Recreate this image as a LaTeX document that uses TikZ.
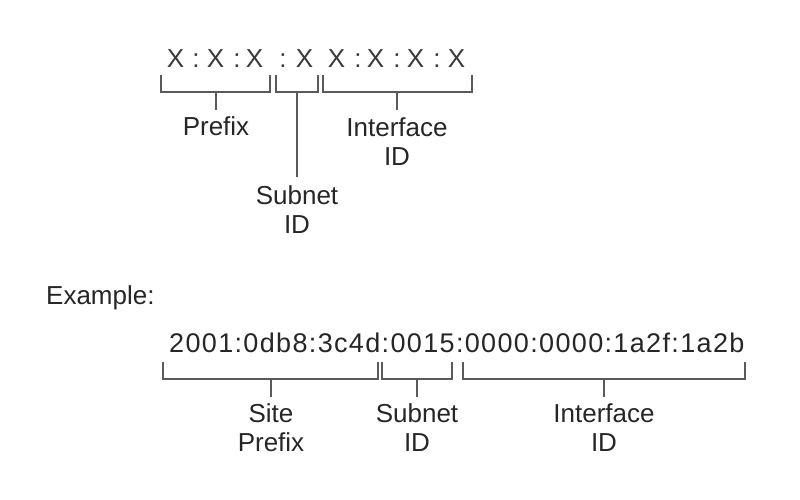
\documentclass[tikz,border=0pt]{standalone}
\usepackage{fontspec}
\setmainfont{Liberation Sans}
\newfontfamily\spacedfont[LetterSpace=5]{Liberation Sans}
\definecolor{linegray}{HTML}{5A5A5A}
\definecolor{textgray}{HTML}{262626}
\definecolor{xgray}{HTML}{3A3A3A}
\begin{document}
\begin{tikzpicture}[x=1pt,y=-1pt,
  brk/.style={draw=linegray, line width=1.6pt},
  lbl/.style={font=\fontsize{26}{29}\selectfont, text=textgray, align=center,
              inner xsep=0pt, inner ysep=6pt, anchor=north},
  glyph/.style={font=\fontsize{26}{29}\selectfont, text=xgray, inner sep=0pt, anchor=base}]
\useasboundingbox (0,0) rectangle (800,500);
% ---- top pattern ----
\foreach \gx/\gc [count=\i] in {175.5/X,196/:,215.5/X,237/:,254.5/X,283/:,304.5/X,336.5/X,358/:,375.5/X,397/:,415.5/X,437/:,456.5/X}
  \node[glyph] (g\i) at (\gx,68) {\gc};
% brackets
\draw[brk] (161,75) -- (161,92) -- (270,92) -- (270,75);
\draw[brk] (276,75) -- (276,92) -- (318,92) -- (318,75);
\draw[brk] (323,75) -- (323,92) -- (472,92) -- (472,75);
\coordinate (tp) at (216,92);
\coordinate (ts) at (297,92);
\coordinate (ti) at (397,92);
\node[lbl] (prefix) at (216,110) {Prefix};
\node[lbl, inner ysep=8pt] (subnet) at (297,177) {Subnet\\ID};
\node[lbl, inner ysep=7pt] (iface) at (397,110) {Interface\\ID};
\draw[brk] (tp) -- (prefix.north);
\draw[brk] (ts) -- (subnet.north);
\draw[brk] (ti) -- (iface.north);
% ---- example ----
\node[font=\fontsize{26}{29}\selectfont, text=textgray, inner sep=0pt, anchor=base west] (example) at (46,304) {Example:};
\node[font=\spacedfont\fontsize{27}{29}\selectfont, text=textgray, inner sep=0pt, anchor=base west] (addr) at (169,352) {2001:0db8:3c4d:0015:0000:0000:1a2f:1a2b};
\draw[brk] (163,362) -- (163,379) -- (378,379) -- (378,362);
\draw[brk] (382,362) -- (382,379) -- (452,379) -- (452,362);
\draw[brk] (463,362) -- (463,379) -- (745,379) -- (745,362);
\coordinate (bs) at (271,379);
\coordinate (bn) at (417,379);
\coordinate (bi) at (604,379);
\node[lbl] (site) at (271,397) {Site\\Prefix};
\node[lbl] (bsubnet) at (417,397) {Subnet\\ID};
\node[lbl] (biface) at (604,397) {Interface\\ID};
\draw[brk] (bs) -- (site.north);
\draw[brk] (bn) -- (bsubnet.north);
\draw[brk] (bi) -- (biface.north);
\end{tikzpicture}
\end{document}
